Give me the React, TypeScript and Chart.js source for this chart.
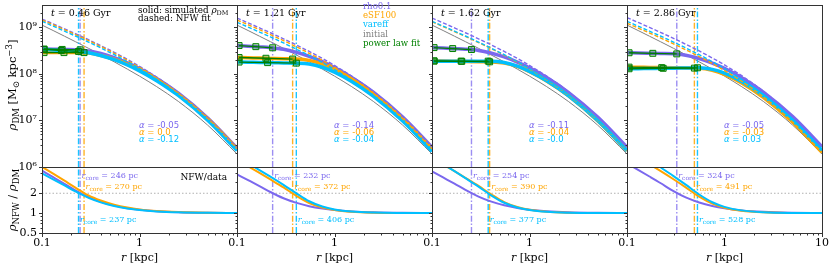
import React, { useEffect, useRef } from 'react';
import { Chart, registerables } from 'chart.js';

Chart.register(...registerables);

// ---------------- data ----------------
const RADII_KPC = [0.1, 0.13, 0.17, 0.22, 0.3, 0.4, 0.55, 0.75, 1, 1.5, 2.5, 5, 10];
const RUN_NAMES = ['rho0.1', 'eSF100', 'vareff'];
const TIMES_GYR = ['0.46', '1.21', '1.62', '2.86'];

// log10(rho_DM / Msun kpc^-3)
const LOG_RHO_INITIAL = [9.05, 8.933, 8.811, 8.694, 8.55, 8.414, 8.26, 8.104, 7.953, 7.727, 7.41, 6.9, 6.28];

// simulated profiles (rho0.1, eSF100, vareff)
const LOG_RHO_SIM_T1 = [
  [8.537, 8.531, 8.526, 8.520, 8.494, 8.438, 8.350, 8.238, 8.113, 7.904, 7.587, 7.054, 6.406],
  [8.458, 8.458, 8.458, 8.458, 8.447, 8.397, 8.316, 8.208, 8.086, 7.880, 7.565, 7.034, 6.386],
  [8.528, 8.514, 8.500, 8.487, 8.454, 8.396, 8.306, 8.192, 8.066, 7.855, 7.537, 7.004, 6.356],
];
const LOG_RHO_SIM_T2 = [
  [8.613, 8.597, 8.581, 8.565, 8.530, 8.470, 8.379, 8.264, 8.137, 7.926, 7.608, 7.075, 6.426],
  [8.355, 8.348, 8.341, 8.334, 8.326, 8.321, 8.291, 8.209, 8.096, 7.892, 7.573, 7.038, 6.388],
  [8.256, 8.251, 8.247, 8.242, 8.237, 8.232, 8.214, 8.143, 8.037, 7.838, 7.522, 6.987, 6.338],
];
const LOG_RHO_SIM_T3 = [
  [8.569, 8.556, 8.543, 8.531, 8.505, 8.451, 8.365, 8.255, 8.131, 7.923, 7.606, 7.074, 6.426],
  [8.283, 8.279, 8.274, 8.269, 8.264, 8.260, 8.237, 8.161, 8.051, 7.850, 7.533, 6.997, 6.348],
  [8.275, 8.275, 8.275, 8.275, 8.275, 8.275, 8.247, 8.167, 8.055, 7.852, 7.533, 6.998, 6.348],
];
const LOG_RHO_SIM_T4 = [
  [8.456, 8.451, 8.445, 8.439, 8.432, 8.401, 8.332, 8.234, 8.119, 7.920, 7.610, 7.082, 6.435],
  [8.146, 8.143, 8.139, 8.136, 8.132, 8.128, 8.124, 8.079, 7.991, 7.806, 7.498, 6.966, 6.317],
  [8.110, 8.113, 8.117, 8.120, 8.124, 8.128, 8.132, 8.098, 8.018, 7.840, 7.536, 7.006, 6.357],
];

// NFW fits (dashed)
const LOG_RHO_NFW_T1 = [
  [9.18, 9.077, 8.97, 8.865, 8.735, 8.609, 8.464, 8.313, 8.163, 7.932, 7.60, 7.059, 6.408],
  [9.16, 9.057, 8.95, 8.845, 8.715, 8.589, 8.444, 8.293, 8.143, 7.912, 7.58, 7.039, 6.388],
  [9.13, 9.027, 8.92, 8.815, 8.685, 8.559, 8.414, 8.263, 8.113, 7.882, 7.55, 7.009, 6.358],
];
const LOG_RHO_NFW_T2 = [
  [9.20, 9.097, 8.99, 8.885, 8.755, 8.629, 8.484, 8.333, 8.183, 7.952, 7.62, 7.079, 6.428],
  [9.16, 9.057, 8.95, 8.845, 8.715, 8.589, 8.444, 8.293, 8.143, 7.912, 7.58, 7.039, 6.388],
  [9.11, 9.007, 8.90, 8.795, 8.665, 8.539, 8.394, 8.243, 8.093, 7.862, 7.53, 6.989, 6.338],
];
const LOG_RHO_NFW_T3 = [
  [9.20, 9.097, 8.99, 8.885, 8.755, 8.629, 8.484, 8.333, 8.183, 7.952, 7.62, 7.079, 6.428],
  [9.12, 9.017, 8.91, 8.805, 8.675, 8.549, 8.404, 8.253, 8.103, 7.872, 7.54, 6.999, 6.348],
  [9.13, 9.027, 8.92, 8.815, 8.685, 8.559, 8.414, 8.263, 8.113, 7.882, 7.55, 7.009, 6.358],
];
const LOG_RHO_NFW_T4 = [
  [9.21, 9.107, 9.0, 8.895, 8.765, 8.639, 8.494, 8.343, 8.193, 7.962, 7.63, 7.089, 6.438],
  [9.09, 8.987, 8.88, 8.775, 8.645, 8.519, 8.374, 8.223, 8.073, 7.842, 7.51, 6.969, 6.318],
  [9.13, 9.027, 8.92, 8.815, 8.685, 8.559, 8.414, 8.263, 8.113, 7.882, 7.55, 7.009, 6.358],
];

// rho_NFW / rho_DM
const RATIO_T1 = [
  [4.40, 3.51, 2.78, 2.21, 1.743, 1.482, 1.299, 1.188, 1.122, 1.066, 1.031, 1.011, 1.004],
  [5.04, 3.97, 3.10, 2.44, 1.854, 1.555, 1.344, 1.216, 1.140, 1.076, 1.036, 1.013, 1.004],
  [4.00, 3.26, 2.63, 2.13, 1.702, 1.456, 1.283, 1.178, 1.115, 1.063, 1.029, 1.010, 1.004],
];
const RATIO_T2 = [
  [3.86, 3.16, 2.57, 2.09, 1.680, 1.442, 1.274, 1.172, 1.112, 1.061, 1.028, 1.010, 1.004],
  [6.39, 5.12, 4.07, 3.24, 2.45, 1.852, 1.423, 1.214, 1.114, 1.047, 1.015, 1.003, 1.001],
  [7.15, 5.69, 4.50, 3.57, 2.68, 2.03, 1.513, 1.259, 1.138, 1.056, 1.018, 1.004, 1.001],
];
const RATIO_T3 = [
  [4.28, 3.47, 2.80, 2.26, 1.779, 1.506, 1.314, 1.197, 1.128, 1.070, 1.032, 1.011, 1.004],
  [6.87, 5.48, 4.33, 3.43, 2.58, 1.946, 1.469, 1.237, 1.126, 1.052, 1.017, 1.004, 1.001],
  [7.01, 5.53, 4.32, 3.39, 2.52, 1.878, 1.436, 1.220, 1.117, 1.048, 1.016, 1.003, 1.001],
];
const RATIO_T4 = [
  [5.67, 4.53, 3.59, 2.86, 2.15, 1.729, 1.452, 1.284, 1.184, 1.100, 1.047, 1.017, 1.006],
  [8.79, 6.99, 5.51, 4.36, 3.26, 2.46, 1.779, 1.394, 1.209, 1.086, 1.028, 1.006, 1.001],
  [10.5, 8.2, 6.36, 4.95, 3.64, 2.70, 1.914, 1.462, 1.245, 1.101, 1.033, 1.007, 1.002],
];

// core radii [pc]
const RCORE_PC_T1 = [246, 270, 237];
const RCORE_PC_T2 = [232, 372, 406];
const RCORE_PC_T3 = [254, 390, 377];
const RCORE_PC_T4 = [324, 491, 528];

// inner power-law slopes
const ALPHA_T1 = ['-0.05', '0.0', '-0.12'];
const ALPHA_T2 = ['-0.14', '-0.06', '-0.04'];
const ALPHA_T3 = ['-0.11', '-0.04', '-0.0'];
const ALPHA_T4 = ['-0.05', '-0.03', '0.03'];

// power-law fit points (r in kpc, log10 rho)
const PL_R_T1 = [[0.105, 0.161, 0.246], [0.105, 0.168, 0.270], [0.105, 0.158, 0.237]];
const PL_LOG_T1 = [[8.536, 8.527, 8.518], [8.458, 8.458, 8.458], [8.526, 8.504, 8.483]];
const PL_R_T2 = [[0.105, 0.156, 0.232], [0.105, 0.198, 0.372], [0.105, 0.206, 0.406]];
const PL_LOG_T2 = [[8.610, 8.586, 8.562], [8.353, 8.337, 8.320], [8.255, 8.243, 8.232]];
const PL_R_T3 = [[0.105, 0.163, 0.254], [0.105, 0.202, 0.390], [0.105, 0.199, 0.377]];
const PL_LOG_T3 = [[8.566, 8.545, 8.524], [8.282, 8.271, 8.260], [8.275, 8.275, 8.275]];
const PL_R_T4 = [[0.105, 0.184, 0.324], [0.105, 0.227, 0.491], [0.105, 0.235, 0.528]];
const PL_LOG_T4 = [[8.455, 8.443, 8.431], [8.146, 8.136, 8.125], [8.111, 8.121, 8.132]];

const REF_RATIO = 2;

const SIM = [LOG_RHO_SIM_T1, LOG_RHO_SIM_T2, LOG_RHO_SIM_T3, LOG_RHO_SIM_T4];
const NFW = [LOG_RHO_NFW_T1, LOG_RHO_NFW_T2, LOG_RHO_NFW_T3, LOG_RHO_NFW_T4];
const RATIO = [RATIO_T1, RATIO_T2, RATIO_T3, RATIO_T4];
const RCORE = [RCORE_PC_T1, RCORE_PC_T2, RCORE_PC_T3, RCORE_PC_T4];
const ALPHA = [ALPHA_T1, ALPHA_T2, ALPHA_T3, ALPHA_T4];
const PL_R = [PL_R_T1, PL_R_T2, PL_R_T3, PL_R_T4];
const PL_LOG = [PL_LOG_T1, PL_LOG_T2, PL_LOG_T3, PL_LOG_T4];

// ---------------- layout / style ----------------
const W = 830, H = 266;
const X0 = [42, 237, 432, 627];
const PW = 195;
const TOP_Y0 = 2, MID_Y = 167, BOT_Y1 = 233;
const X_MIN = 0.1, X_MAX = 10;
const Y_TOP_MIN = 1e6, Y_TOP_MAX = 3e9;
const Y_BOT_MIN = 0.5, Y_BOT_MAX = 5;

const SERIF = '"DejaVu Serif", serif';
const SANS = '"DejaVu Sans", sans-serif';
const COLORS = ['#7b68ee', '#ffa500', '#00bfff'];
const VCOLORS = ['rgba(123,104,238,0.75)', 'rgba(255,165,0,0.85)', 'rgba(0,191,255,0.9)'];
const GREEN = '#008000';

const TOP_Y_TICKS: [number, number][] = [];
[6, 7, 8].forEach((e) => {
  TOP_Y_TICKS.push([Math.pow(10, e), 3.5]);
  for (let k = 2; k <= 9; k++) TOP_Y_TICKS.push([k * Math.pow(10, e), 2]);
});
TOP_Y_TICKS.push([1e9, 3.5], [2e9, 2]);
const BOT_Y_TICKS: [number, number][] = [[0.5, 3.5], [1, 3.5], [2, 3.5], [0.6, 2], [0.7, 2], [0.8, 2], [0.9, 2], [3, 2], [4, 2]];
const X_TICKS: [number, number][] = [[0.1, 3.5], [1, 3.5], [10, 3.5]];
for (let k = 2; k <= 9; k++) X_TICKS.push([k / 10, 2], [k, 2]);

type Part = { t: string; size: number; italic?: boolean; dy?: number; fam?: string };
type TextItem = { parts: Part[]; x?: number; xr?: number; dx?: number; y: number; align: 'left' | 'center' | 'right'; color: string; rot?: boolean };

function fontOf(p: Part) {
  return `${p.italic ? 'italic ' : ''}${p.size}px ${p.fam || SERIF}`;
}
function drawRich(ctx: CanvasRenderingContext2D, parts: Part[], x: number, y: number, align: string, color: string) {
  let w = 0;
  for (const p of parts) { ctx.font = fontOf(p); w += ctx.measureText(p.t).width; }
  let cx = align === 'left' ? x : align === 'center' ? x - w / 2 : x - w;
  ctx.fillStyle = color;
  ctx.textAlign = 'left';
  ctx.textBaseline = 'alphabetic';
  for (const p of parts) {
    ctx.font = fontOf(p);
    ctx.fillText(p.t, cx, y + (p.dy || 0));
    cx += ctx.measureText(p.t).width;
  }
}

function makeDeco(cfg: { yTicks: [number, number][]; xTicks?: [number, number][]; texts: TextItem[] }) {
  return {
    id: 'deco',
    afterDatasetsDraw(chart: any) {
      const { ctx, chartArea: a } = chart;
      const xs = chart.scales.x, ys = chart.scales.y;
      ctx.save();
      ctx.strokeStyle = '#333';
      ctx.lineWidth = 1;
      ctx.beginPath();
      const L = Math.round(a.left), T = Math.round(a.top), R = Math.round(a.right), B = Math.round(a.bottom);
      for (const [v, len] of cfg.yTicks) {
        const py = Math.round(ys.getPixelForValue(v)) + 0.5;
        ctx.moveTo(L + 0.5, py); ctx.lineTo(L + 0.5 - len, py);
      }
      for (const [v, len] of cfg.xTicks || []) {
        const px = Math.round(xs.getPixelForValue(v)) + 0.5;
        ctx.moveTo(px, B + 0.5); ctx.lineTo(px, B + 0.5 + len);
      }
      ctx.stroke();
      ctx.strokeRect(L + 0.5, T + 0.5, R - L, B - T);
      ctx.restore();
    },
    afterDraw(chart: any) {
      const { ctx } = chart;
      const xs = chart.scales.x;
      ctx.save();
      for (const it of cfg.texts) {
        const x = it.xr !== undefined ? xs.getPixelForValue(it.xr) + (it.dx || 0) : (it.x as number);
        if (it.rot) {
          ctx.save();
          ctx.translate(x, it.y);
          ctx.rotate(-Math.PI / 2);
          drawRich(ctx, it.parts, 0, 0, it.align, it.color);
          ctx.restore();
        } else {
          drawRich(ctx, it.parts, x, it.y, it.align, it.color);
        }
      }
      ctx.restore();
    },
  };
}

const pow10 = (v: number) => Math.pow(10, v);
function pts(xs: number[], ys: number[], f: (v: number) => number = (v) => v) {
  return xs.map((x, i) => ({ x, y: f(ys[i]) }));
}
function lineDs(data: any[], color: string, width: number, extra: any = {}) {
  return { data, borderColor: color, backgroundColor: color, borderWidth: width, pointRadius: 0, fill: false, clip: 0, cubicInterpolationMode: 'monotone', ...extra };
}
function withOrder(layers: any[]) {
  return layers.map((d, i) => ({ ...d, order: layers.length - i }));
}

const SUP: Record<number, string> = { 6: '⁶', 7: '⁷', 8: '⁸', 9: '⁹' };

const common = {
  responsive: false,
  maintainAspectRatio: false,
  animation: false,
  devicePixelRatio: 1,
  events: [],
  plugins: { legend: { display: false }, tooltip: { enabled: false } },
};

function fixW(show: boolean) {
  return (s: any) => {
    if (!show) { s.width = 0; return; }
    s.width = 42; s.paddingTop = 0; s.paddingBottom = 0;
  };
}

function topConfig(p: number): any {
  const x0 = X0[p];
  const showY = p === 0;
  const layers: any[] = [];
  layers.push(lineDs(pts(RADII_KPC, LOG_RHO_INITIAL, pow10), 'gray', 1));
  for (let k = 0; k < 3; k++) {
    const rc = RCORE[p][k] / 1000;
    layers.push(lineDs([{ x: rc, y: Y_TOP_MIN }, { x: rc, y: Y_TOP_MAX }], VCOLORS[k], 1.4, { borderDash: [6, 2, 1.5, 2] }));
  }
  for (let k = 0; k < 3; k++) layers.push(lineDs(pts(RADII_KPC, SIM[p][k], pow10), COLORS[k], 3.5));
  for (let k = 0; k < 3; k++) layers.push(lineDs(pts(RADII_KPC, NFW[p][k], pow10), COLORS[k], 1.4, { borderDash: [4, 2] }));
  for (let k = 0; k < 3; k++) {
    layers.push(lineDs(pts(PL_R[p][k], PL_LOG[p][k], pow10), GREEN, 1.3, {
      cubicInterpolationMode: 'default', tension: 0,
      pointRadius: 4.2, pointStyle: 'rect', pointBorderWidth: 1,
      pointBorderColor: GREEN, pointBackgroundColor: 'rgba(0,128,0,0.28)',
    }));
  }

  const texts: TextItem[] = [
    { parts: [{ t: 't', size: 9.5, italic: true }, { t: ` = ${TIMES_GYR[p]} Gyr`, size: 9.5 }], x: x0 + 9, y: 15.5, align: 'left', color: '#000' },
  ];
  ALPHA[p].forEach((a, k) => {
    texts.push({ parts: [{ t: 'α', size: 8.5, italic: true, fam: SANS }, { t: ` = ${a}`, size: 8.5, fam: SANS }], x: x0 + 97, y: 128 + 7 * k, align: 'left', color: COLORS[k] });
  });
  if (p === 0) {
    texts.push({ parts: [{ t: 'solid: simulated ', size: 8.8 }, { t: 'ρ', size: 8.8, italic: true }, { t: 'DM', size: 6.5, dy: 2 }], x: x0 + 96, y: 12.8, align: 'left', color: '#000' });
    texts.push({ parts: [{ t: 'dashed: NFW fit', size: 8.8 }], x: x0 + 96, y: 21.3, align: 'left', color: '#000' });
  }
  if (p === 1) {
    const names = [...RUN_NAMES, 'initial', 'power law fit'];
    const cols = [...COLORS, 'gray', GREEN];
    names.forEach((n, i) => {
      texts.push({ parts: [{ t: n, size: 8.6 }], x: x0 + 126, y: 9 + 9.2 * i, align: 'left', color: cols[i] });
    });
  }

  return {
    type: 'line',
    data: { datasets: withOrder(layers) },
    options: {
      ...common,
      layout: { padding: { left: showY ? x0 - 42 : x0, right: W - x0 - PW, top: TOP_Y0, bottom: H - MID_Y } },
      scales: {
        x: { type: 'logarithmic', min: X_MIN, max: X_MAX, display: false },
        y: {
          type: 'logarithmic', min: Y_TOP_MIN, max: Y_TOP_MAX, display: showY,
          afterFit: fixW(showY),
          grid: { display: false, drawTicks: false }, border: { display: false },
          ticks: {
            autoSkip: false, padding: 5, color: '#000', font: { family: SERIF, size: 11 },
            callback: (v: any) => {
              const l = Math.log10(Number(v));
              const r = Math.round(l);
              return Math.abs(l - r) < 1e-6 && SUP[r] ? '10' + SUP[r] : '';
            },
          },
        },
      },
    },
    plugins: [makeDeco({ yTicks: TOP_Y_TICKS, texts })],
  };
}

function bottomConfig(p: number): any {
  const x0 = X0[p];
  const showY = p === 0;
  const layers: any[] = [];
  layers.push(lineDs([{ x: X_MIN, y: REF_RATIO }, { x: X_MAX, y: REF_RATIO }], '#b0b0b0', 1, { borderDash: [1.5, 2] }));
  for (let k = 0; k < 3; k++) {
    const rc = RCORE[p][k] / 1000;
    layers.push(lineDs([{ x: rc, y: Y_BOT_MIN }, { x: rc, y: Y_BOT_MAX }], VCOLORS[k], 1.4, { borderDash: [6, 2, 1.5, 2] }));
  }
  for (let k = 0; k < 3; k++) layers.push(lineDs(pts(RADII_KPC, RATIO[p][k]), COLORS[k], 2));

  const texts: TextItem[] = [];
  const ys = [178, 189, 222];
  RCORE[p].forEach((pc, k) => {
    texts.push({
      parts: [{ t: 'r', size: 8, italic: true }, { t: 'core', size: 6, dy: 2 }, { t: ` = ${pc} pc`, size: 8 }],
      xr: pc / 1000, dx: 1.5, y: ys[k], align: 'left', color: COLORS[k],
    });
  });
  texts.push({ parts: [{ t: 'r', size: 11, italic: true }, { t: ' [kpc]', size: 11 }], x: x0 + PW / 2, y: 261, align: 'center', color: '#000' });
  if (p === 0) {
    texts.push({ parts: [{ t: 'NFW/data', size: 9 }], x: x0 + 185, y: 180, align: 'right', color: '#000' });
    texts.push({
      parts: [{ t: 'ρ', size: 11.5, italic: true }, { t: 'DM', size: 8.5, dy: 2.5 }, { t: ' [M', size: 11.5 }, { t: '⊙', size: 8.5, dy: 2.5 }, { t: ' kpc', size: 11.5 }, { t: '−3', size: 8.5, dy: -4.5 }, { t: ']', size: 11.5 }],
      x: 16, y: 85, align: 'center', color: '#000', rot: true,
    });
    texts.push({
      parts: [{ t: 'ρ', size: 11.5, italic: true }, { t: 'NFW', size: 8.5, dy: 2.5 }, { t: ' / ', size: 11.5 }, { t: 'ρ', size: 11.5, italic: true }, { t: 'DM', size: 8.5, dy: 2.5 }],
      x: 16, y: 200, align: 'center', color: '#000', rot: true,
    });
  }

  return {
    type: 'line',
    data: { datasets: withOrder(layers) },
    options: {
      ...common,
      layout: { padding: { left: showY ? x0 - 42 : x0, right: W - x0 - PW, top: MID_Y, bottom: 0 } },
      scales: {
        x: {
          type: 'logarithmic', min: X_MIN, max: X_MAX, display: true,
          afterFit: (s: any) => { s.height = H - BOT_Y1; s.paddingLeft = 0; s.paddingRight = 0; },
          grid: { display: false, drawTicks: false }, border: { display: false },
          ticks: {
            autoSkip: false, maxRotation: 0, minRotation: 0, padding: 4, color: '#000', font: { family: SERIF, size: 11 },
            callback: (v: any) => {
              const n = Number(v);
              if (Math.abs(n - 0.1) < 1e-9) return '0.1';
              if (Math.abs(n - 1) < 1e-9) return '1';
              if (p === 3 && Math.abs(n - 10) < 1e-9) return '10';
              return '';
            },
          },
        },
        y: {
          type: 'logarithmic', min: Y_BOT_MIN, max: Y_BOT_MAX, display: showY,
          afterFit: fixW(showY),
          grid: { display: false, drawTicks: false }, border: { display: false },
          ticks: {
            autoSkip: false, padding: 5, color: '#000', font: { family: SERIF, size: 11 },
            callback: (v: any) => {
              const n = Number(v);
              if (Math.abs(n - 0.5) < 1e-9) return '0.5';
              if (Math.abs(n - 1) < 1e-9) return '1';
              if (Math.abs(n - 2) < 1e-9) return '2';
              return '';
            },
          },
        },
      },
    },
    plugins: [makeDeco({ yTicks: BOT_Y_TICKS, xTicks: X_TICKS, texts })],
  };
}

export default function App() {
  const refs = useRef<(HTMLCanvasElement | null)[]>([]);
  useEffect(() => {
    const charts: Chart[] = [];
    for (let p = 0; p < 4; p++) {
      const c1 = refs.current[2 * p];
      const c2 = refs.current[2 * p + 1];
      if (c1) charts.push(new Chart(c1, topConfig(p)));
      if (c2) charts.push(new Chart(c2, bottomConfig(p)));
    }
    return () => charts.forEach((c) => c.destroy());
  }, []);
  return (
    <div style={{ position: 'fixed', left: 0, top: 0, width: W, height: H, background: '#fff' }}>
      {Array.from({ length: 8 }).map((_, i) => (
        <canvas
          key={i}
          ref={(el) => { refs.current[i] = el; }}
          width={W}
          height={H}
          style={{ position: 'absolute', left: 0, top: 0, width: W, height: H }}
        />
      ))}
    </div>
  );
}
